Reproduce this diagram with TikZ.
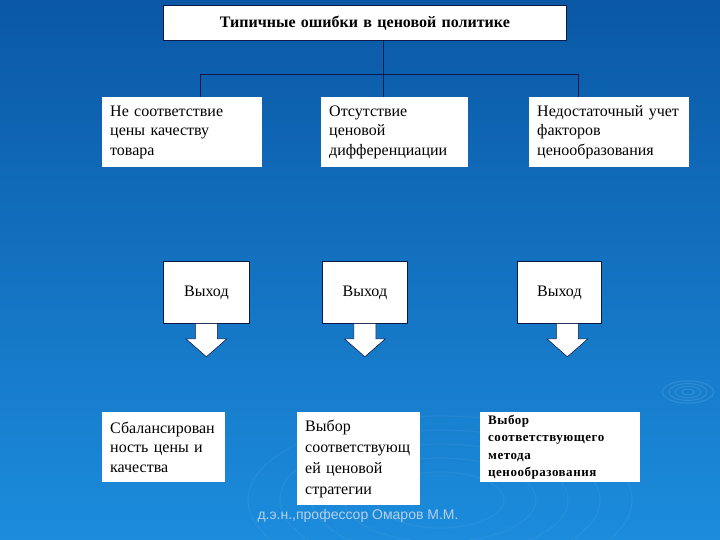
\documentclass[tikz,border=0pt]{standalone}
\usepackage{fontspec}
\setmainfont{Liberation Serif}
\newfontfamily\footfont{Liberation Sans}
\newfontfamily\spacedbold[LetterSpace=4]{Liberation Serif}
\definecolor{bgtop}{RGB}{10,88,165}
\definecolor{bgbot}{RGB}{28,140,220}
\definecolor{linec}{RGB}{10,25,70}
\definecolor{footc}{RGB}{180,208,235}
\tikzset{
  box/.style={fill=white, anchor=north west, inner xsep=8pt, inner ysep=0pt, align=left,
    font=\fontsize{16}{19.5}\selectfont},
  framed/.style={box, draw=linec, line width=0.8pt},
  outbox/.style={framed, align=center, inner xsep=0pt},
  conn/.style={draw=linec, line width=0.9pt},
  downarrow/.style={fill=white, draw=linec, line width=0.6pt},
  ripple/.style={draw=white, opacity=0.10, line width=1.2pt}
}
\begin{document}
\begin{tikzpicture}[x=1pt,y=-1pt]
\useasboundingbox (0,0) rectangle (720,540);
\shade[top color=bgtop, bottom color=bgbot] (0,0) rectangle (720,540);
% ripples
\foreach \r in {4,8,12,16} {\draw[ripple] (688,392) ellipse ({1.6*\r} and {\r*0.7});}
\foreach \r in {40,60,80,100,120} {\draw[ripple, opacity=0.05] (440,500) ellipse ({1.6*\r} and {0.7*\r});}

% title
\node[framed, align=center, minimum width=403pt, minimum height=35pt, text width=403pt, inner xsep=0pt,
  font=\fontsize{16}{18}\selectfont\bfseries] (title) at (163,5) {Типичные ошибки в ценовой политике};

% error boxes
\node[box, minimum width=160pt, minimum height=70pt, text width=144pt] (e1) at (102,97)
  {Не соответствие\\цены качеству\\товара};
\node[box, minimum width=147pt, minimum height=70pt, text width=131pt] (e2) at (321,97)
  {Отсутствие\\ценовой\\дифференциации};
\node[box, minimum width=160pt, minimum height=70pt, text width=144pt] (e3) at (529,97)
  {Недостаточный учет\\факторов\\ценообразования};

% connectors
\coordinate (jm) at (383,74);
\coordinate (jl) at (200,74);
\coordinate (jr) at (578,74);
\draw[conn] (title.south -| jm) -- (jm);
\draw[conn] (e1.north -| jl) -- (jl) -- (jr) -- (e3.north -| jr);
\draw[conn] (jm) -- (e2.north -| jm);

% exit boxes
\node[outbox, minimum width=86pt, minimum height=62pt, text width=82pt] (x1) at (163,261) {Выход\\[8pt]};
\node[outbox, minimum width=85pt, minimum height=62pt, text width=81pt] (x2) at (322,261) {Выход\\[8pt]};
\node[outbox, minimum width=84pt, minimum height=62pt, text width=80pt] (x3) at (517,261) {Выход\\[8pt]};

% arrows
\foreach \n/\dx in {x1/0, x2/0, x3/8} {
  \filldraw[downarrow] ([xshift=\dx pt-11pt]\n.south) -- ++(0,15) -- ++(-9.5,0) -- ++(20.5,18)
    -- ++(20.5,-18) -- ++(-9.5,0) -- ++(0,-15);
}

% result boxes
\node[box, minimum width=123pt, minimum height=70pt, text width=107pt] (r1) at (102,412)
  {Сбалансирован\\ность цены и\\качества};
\node[box, minimum width=123pt, minimum height=93pt, text width=107pt,
  font=\fontsize{16}{21}\selectfont] (r2) at (297,412)
  {Выбор\\соответствующ\\ей ценовой\\стратегии};
\node[box, minimum width=160pt, minimum height=70pt, text width=144pt, inner xsep=8pt,
  font=\spacedbold\fontsize{13}{17.5}\selectfont\bfseries] (r3) at (480,412)
  {Выбор\\соответствующего\\метода\\ценообразования};

% footer
\node[font=\footfont\fontsize{14}{16}\selectfont, text=footc] (foot) at (358,516)
  {д.э.н.,профессор Омаров М.М.};
\end{tikzpicture}
\end{document}
